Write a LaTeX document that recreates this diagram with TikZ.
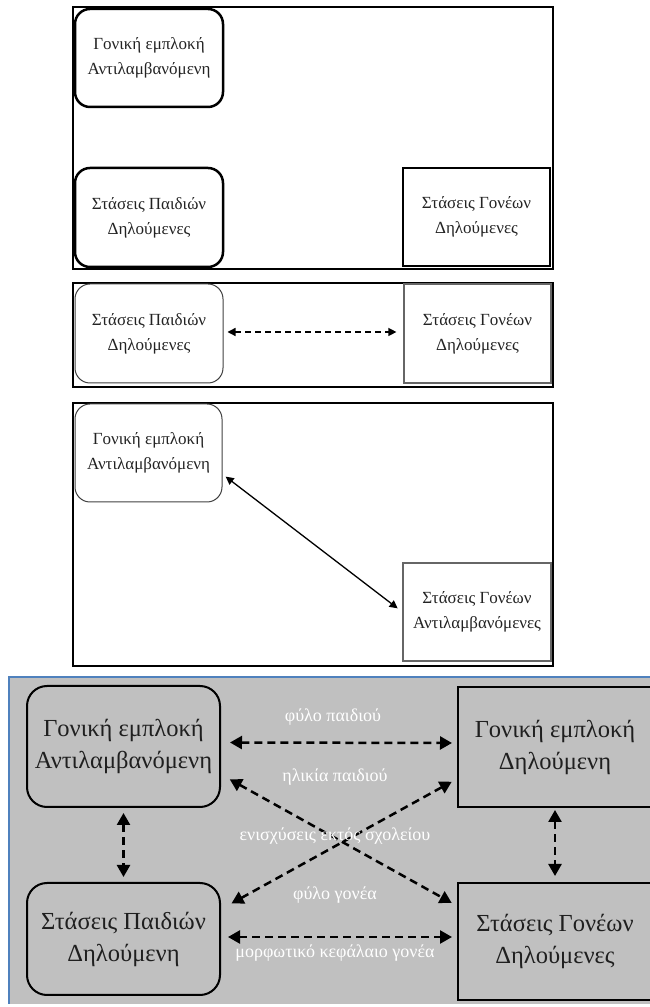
\documentclass[tikz,border=0pt]{standalone}
\usepackage{fontspec}
\setmainfont{Liberation Serif}
\usepackage{xcolor}
\usetikzlibrary{arrows.meta}
\definecolor{panelgray}{RGB}{192,192,192}
\definecolor{frameblue}{RGB}{79,129,189}
\definecolor{boxtext}{RGB}{35,35,35}

\begin{document}
\begin{tikzpicture}[x=1pt,y=1pt,
  smalltxt/.style={font=\fontsize{17}{25}\selectfont, align=center, text=boxtext},
  bigtxt/.style={font=\fontsize{24.5}{32}\selectfont, align=center, text=black!88},
  roundbox/.style={draw, rounded corners=15pt, inner sep=0pt},
  squarebox/.style={draw, inner sep=0pt},
  frame/.style={draw, line width=1.8pt},
  thinarr/.style={<->, >={Triangle[length=8pt,width=8pt]}, line width=1.3pt},
  boldarr/.style={<->, >={Triangle[length=12pt,width=13pt]}, line width=2.5pt, dash pattern=on 8pt off 5pt},
  lbl/.style={font=\fontsize{18}{20}\selectfont, text=white}
]
\useasboundingbox (0,0) rectangle (649,1007);

% first panel
\draw[frame] (73,738) rectangle (553,1000);
\node[roundbox, smalltxt, line width=2.5pt, minimum width=148pt, minimum height=98pt] (a1) at (149,949) {Γονική εμπλοκή\\Αντιλαμβανόμενη};
\node[roundbox, smalltxt, line width=2.5pt, minimum width=148pt, minimum height=99pt] (b1) at (149,789.5) {Στάσεις Παιδιών\\Δηλούμενες};
\node[squarebox, smalltxt, line width=2.5pt, minimum width=147pt, minimum height=98pt] (c1) at (476.5,790) {Στάσεις Γονέων\\Δηλούμενες};

% second panel
\draw[frame] (73,620) rectangle (553,724);
\node[roundbox, smalltxt, line width=1pt, draw=black!75, minimum width=148pt, minimum height=99pt] (b2) at (149,673.5) {Στάσεις Παιδιών\\Δηλούμενες};
\node[squarebox, smalltxt, line width=1.2pt, draw=black!60, minimum width=147pt, minimum height=99pt] (c2) at (477.5,673.5) {Στάσεις Γονέων\\Δηλούμενες};
\draw[thinarr, dash pattern=on 6pt off 4pt, shorten <=4pt, shorten >=7pt] ([yshift=1.5pt]b2.east) -- ([yshift=1.5pt]c2.west);

% third panel
\draw[frame] (73,341) rectangle (553,604);
\node[roundbox, smalltxt, line width=1pt, draw=black!75, minimum width=147pt, minimum height=98pt] (a3) at (148.5,554) {Γονική εμπλοκή\\Αντιλαμβανόμενη};
\node[squarebox, smalltxt, line width=1.2pt, draw=black!60, minimum width=148pt, minimum height=98pt] (d3) at (477,395) {Στάσεις Γονέων\\Αντιλαμβανόμενες};
\draw[thinarr, shorten <=4pt, shorten >=6pt] (a3.-16) -- (d3.west);

% fourth panel
\fill[panelgray] (9,3) rectangle (655,330);
\draw[frameblue, line width=2pt] (9,3) -- (9,330) -- (655,330);
\node[roundbox, bigtxt, rounded corners=20pt, line width=2pt, minimum width=193pt, minimum height=121pt] (a4) at (123.5,260.5) {Γονική εμπλοκή\\Αντιλαμβανόμενη};
\node[squarebox, bigtxt, line width=2pt, minimum width=194pt, minimum height=120pt] (b4) at (555,260) {Γονική εμπλοκή\\Δηλούμενη};
\node[roundbox, bigtxt, rounded corners=20pt, line width=2pt, minimum width=193pt, minimum height=112pt] (c4) at (123.5,68) {Στάσεις Παιδιών\\Δηλούμενη};
\node[squarebox, bigtxt, line width=2pt, minimum width=194pt, minimum height=117pt] (d4) at (555,65.5) {Στάσεις Γονέων\\Δηλούμενες};

\draw[boldarr, shorten <=9pt, shorten >=5pt] ([yshift=4pt]a4.east) -- ([yshift=4pt]b4.west);
\draw[boldarr, shorten <=7pt, shorten >=5pt] ([yshift=2pt]c4.east) -- ([yshift=4.5pt]d4.west);
\draw[boldarr, shorten <=5pt, shorten >=5pt] (a4.south) -- (c4.north);
\draw[boldarr, shorten <=2pt, shorten >=6pt] (b4.south) -- (d4.north);
\draw[boldarr, shorten <=10pt, shorten >=6pt] (a4.-16) -- (d4.160);
\draw[boldarr, shorten <=6pt, shorten >=12pt] (b4.198) -- (c4.17);

\node[lbl] (l1) at (333,290) {φύλο παιδιού};
\node[lbl] (l2) at (335,230) {ηλικία παιδιού};
\node[lbl] (l3) at (335,171) {ενισχύσεις εκτός σχολείου};
\node[lbl] (l4) at (335,112) {φύλο γονέα};
\node[lbl] (l5) at (335,54) {μορφωτικό κεφάλαιο γονέα};
\end{tikzpicture}
\end{document}
